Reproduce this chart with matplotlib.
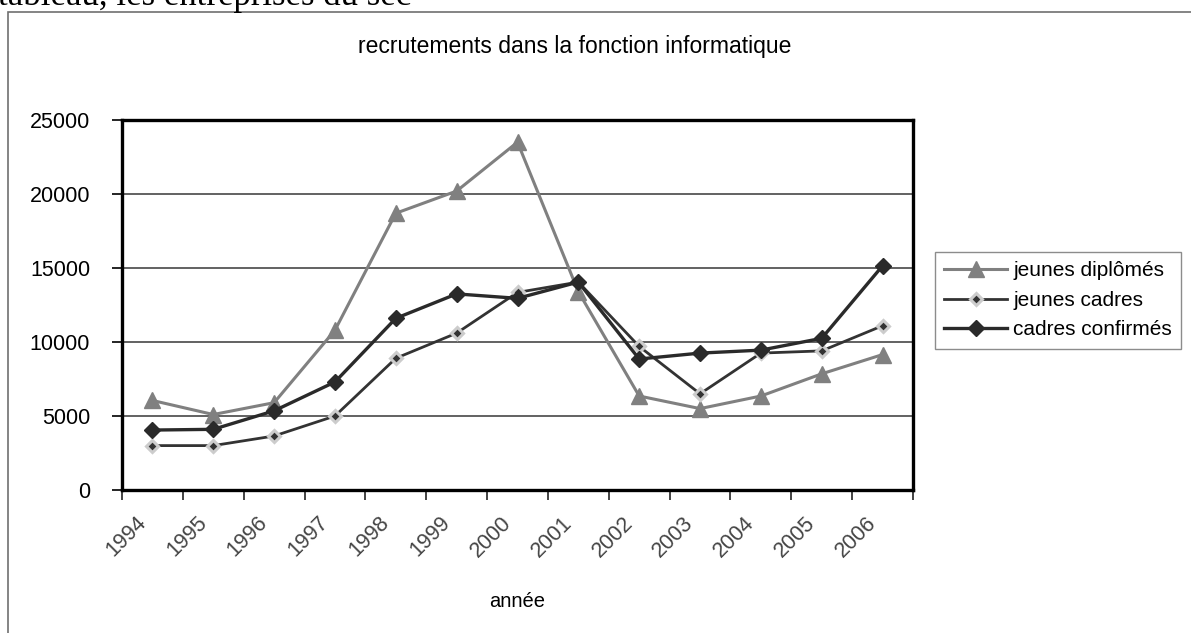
#!/usr/bin/env python3

import matplotlib
matplotlib.use("Agg")
import matplotlib.pyplot as plt
import matplotlib.transforms as mtransforms
from matplotlib.patches import Rectangle


YEARS = ["1994", "1995", "1996", "1997", "1998", "1999", "2000",
         "2001", "2002", "2003", "2004", "2005", "2006"]
JEUNES_DIPLOMES = [6050, 5100, 5900, 10800, 18700, 20200, 23500,
                   13400, 6350, 5500, 6350, 7850, 9150]
JEUNES_CADRES = [3000, 3000, 3650, 5000, 8900, 10600, 13350,
                 14050, 9700, 6500, 9250, 9400, 11100]
CADRES_CONFIRMES = [4050, 4100, 5350, 7300, 11600, 13250, 12950,
                    14050, 8850, 9250, 9450, 10250, 15150]

TITLE = "recrutements dans la fonction informatique"
XLABEL = "année"
LABELS = ["jeunes diplômés", "jeunes cadres", "cadres confirmés"]

plt.rcParams["font.family"] = ["Liberation Sans", "DejaVu Sans"]

W, H = 1191, 633
fig = plt.figure(figsize=(W / 100, H / 100), dpi=100)

# outer chart frame and the cut-off line of body text above it
fig.patches.append(Rectangle((8 / W, -0.05), 1.1, 1 - 12 / H + 0.05,
                             transform=fig.transFigure, fill=False,
                             edgecolor="#707070", linewidth=1.2))
fig.text(-0.002, 1 - 5 / H, "tableau, les entreprises du sec",
         family="Liberation Serif", fontsize=25, va="baseline", ha="left")

fig.text(575 / W, 1 - 47 / H, TITLE, fontsize=16.5, ha="center", va="center")

ax = fig.add_axes([122 / W, 1 - 490 / H, (913 - 122) / W, (490 - 120) / H])

x = list(range(len(YEARS)))
ax.plot(x, JEUNES_DIPLOMES, color="#808080", linewidth=2.2, marker="^",
        markersize=12, markerfacecolor="#808080", markeredgecolor="#808080",
        label=LABELS[0], zorder=3)
ax.plot(x, JEUNES_CADRES, color="#333333", linewidth=2.0, marker="D",
        markersize=6.5, markerfacecolor="#333333", markeredgecolor="#cccccc",
        markeredgewidth=2.2, label=LABELS[1], zorder=4)
ax.plot(x, CADRES_CONFIRMES, color="#2a2a2a", linewidth=2.4, marker="D",
        markersize=8.5, markerfacecolor="#2a2a2a", markeredgecolor="#2a2a2a",
        label=LABELS[2], zorder=5)

ax.set_xlim(-0.5, len(YEARS) - 0.5)
ax.set_ylim(0, 25000)
ax.set_yticks(range(0, 25001, 5000))
ax.yaxis.grid(True, color="#555555", linewidth=1.3)
ax.set_axisbelow(True)

ax.set_xticks([i - 0.5 for i in range(len(YEARS) + 1)])
ax.set_xticklabels([])
ax.set_xticks(x, minor=True)
ax.set_xticklabels(YEARS, minor=True, rotation=45, ha="right", va="top",
                   rotation_mode="anchor", fontsize=15.5, color="#444444")
ax.tick_params(axis="x", which="minor", length=0, pad=16)
ax.tick_params(axis="x", which="major", length=7, width=1.2, color="#222222")
ax.tick_params(axis="y", length=7, width=1.2, pad=16, labelsize=15.5)

shift = mtransforms.ScaledTranslation(-17 / 100, 0, fig.dpi_scale_trans)
for lbl in ax.get_xticklabels(minor=True):
    lbl.set_transform(lbl.get_transform() + shift)

for spine in ax.spines.values():
    spine.set_linewidth(2.4)
    spine.set_color("black")

ax.set_xlabel(XLABEL, fontsize=14.5, labelpad=22)

ax.legend(loc="upper left", bbox_to_anchor=(935 / W, 1 - 252 / H),
          bbox_transform=fig.transFigure, frameon=True, fancybox=False,
          edgecolor="#707070", fontsize=15, handlelength=3.0,
          borderpad=0.45, labelspacing=0.5, handletextpad=0.3,
          borderaxespad=0)

fig.savefig("out.png", dpi=100)
